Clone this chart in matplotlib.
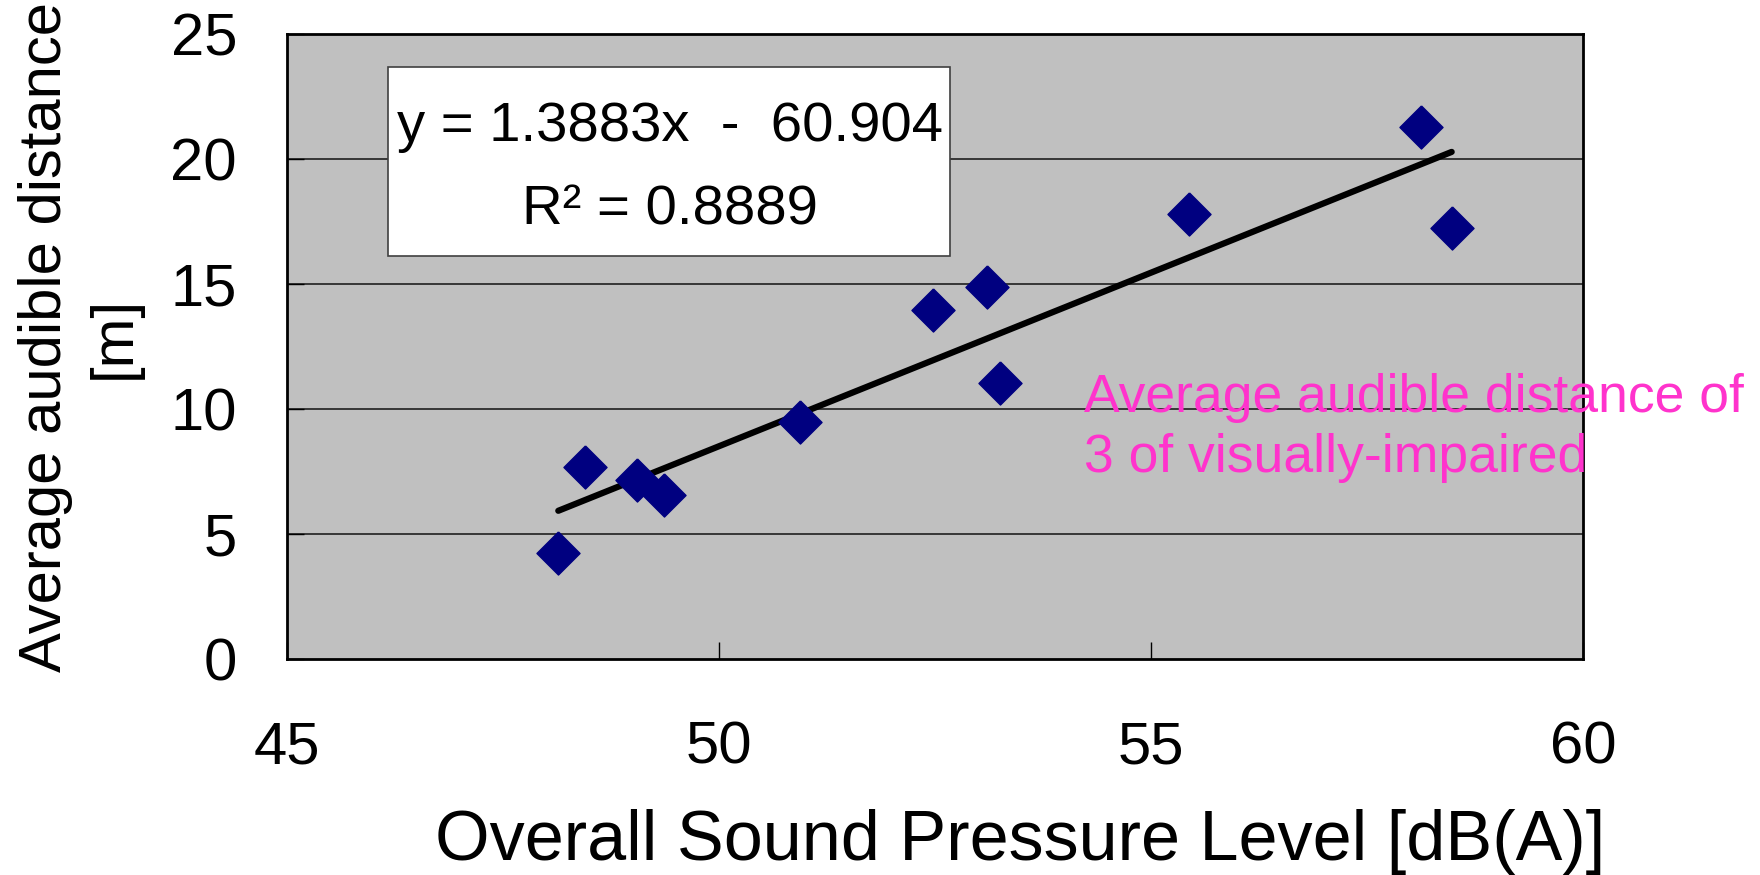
import matplotlib
matplotlib.use('Agg')
import matplotlib.pyplot as plt
from matplotlib.patches import Rectangle
import numpy as np

# data
spl = [48.14, 48.45, 49.05, 49.36, 50.94, 52.48, 53.10, 53.25, 55.44, 58.12, 58.48]
dist = [4.26, 7.67, 7.18, 6.55, 9.47, 13.96, 14.90, 11.04, 17.82, 21.27, 17.24]
slope = 1.3883
intercept = -60.904
r2 = 0.8889
x_ticks = [45, 50, 55, 60]
y_ticks = [0, 5, 10, 15, 20, 25]

font = ['Liberation Sans', 'DejaVu Sans']

fig = plt.figure(figsize=(17.6, 8.75), dpi=100)
ax = fig.add_axes([287 / 1760, (875 - 659) / 875, (1583 - 287) / 1760, (659 - 34) / 875])
ax.set_facecolor('#C0C0C0')

ax.set_xlim(45, 60)
ax.set_ylim(0, 25)
ax.set_xticks(x_ticks)
ax.set_yticks(y_ticks)

for v in y_ticks[1:-1]:
    ax.axhline(v, color='#202020', lw=1.2, zorder=1)

# trend line
xs = np.array([min(spl), max(spl)])
ax.plot(xs, slope * xs + intercept, color='black', lw=4.5, solid_capstyle='round', zorder=3)

diamond = [(0, 1), (1, 0), (0, -1), (-1, 0), (0, 1)]
ax.plot(spl, dist, linestyle='none', marker=diamond, ms=31, color='#000080', zorder=4)

for s in ax.spines.values():
    s.set_linewidth(2)
    s.set_color('black')

ax.tick_params(direction='in', length=12, width=1, pad=36, labelsize=43)
ax.tick_params(axis='x', pad=44)
for lab in ax.get_xticklabels() + ax.get_yticklabels():
    lab.set_family(font)

ax.set_xlabel('Overall Sound Pressure Level [dB(A)]', fontsize=50.5, family=font, va='center')
ax.xaxis.set_label_coords(0.5656, -0.293)
ax.set_ylabel('Average audible distance\n[m]', fontsize=43, family=font,
              linespacing=1.32, va='center')
ax.yaxis.set_label_coords(-0.16, 0.515)

# equation box
ax.add_patch(Rectangle((0.0779, 0.645), 0.4337, 0.302, transform=ax.transAxes,
                       facecolor='white', edgecolor='#404040', lw=1.2, zorder=5))
ax.text(0.2955, 0.851, 'y = %.4fx  -  %.3f' % (slope, -intercept), transform=ax.transAxes,
        ha='center', va='center', fontsize=40.5, family=font, zorder=6)
ax.text(0.2955, 0.717, 'R² = %.4f' % r2, transform=ax.transAxes,
        ha='center', va='center', fontsize=40.5, family=font, zorder=6)

fig.text(1084 / 1760, 1 - 428 / 875, 'Average audible distance of\n3 of visually-impaired',
         color='#FF33CC', fontsize=38.5, family=font, ha='left', va='center', linespacing=1.25)

fig.savefig('out.png', dpi=100)
